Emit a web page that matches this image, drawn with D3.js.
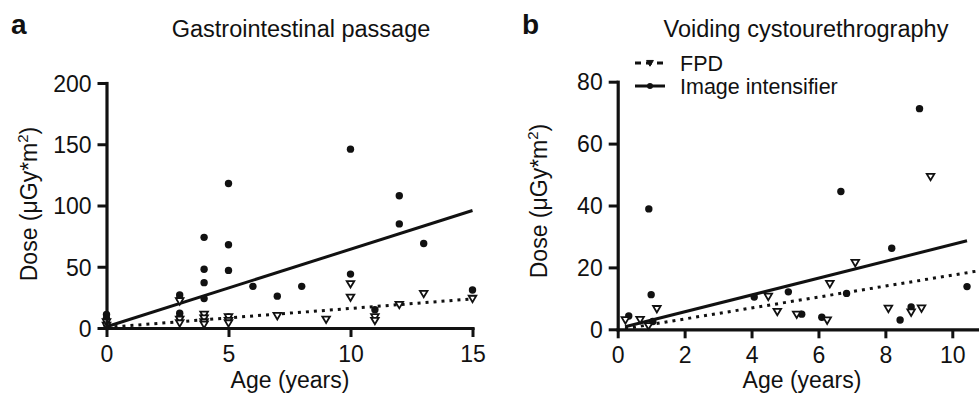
<!DOCTYPE html>
<html lang="en">
<head>
<meta charset="utf-8">
<title>Dose vs age</title>
<script src="https://cdn.jsdelivr.net/npm/d3@7"></script>
<style>
  body { margin: 0; background: #fff; }
  text { font-family: "Liberation Sans", Arial, sans-serif; fill: #111; }
</style>
</head>
<body>
<script>
// Panel a: gastrointestinal passage
var giIntensAge  = [0, 0, 0, 0, 3, 3, 3, 3, 4, 4, 4, 4, 4, 5, 5, 5, 5, 6, 7, 8, 10, 10, 11, 12, 12, 13, 15];
var giIntensDose = [11, 8, 5, 3, 27, 24, 12, 9, 74, 48, 37, 24, 10, 118, 68, 47, 9, 34, 26, 34, 146, 44, 15, 108, 85, 69, 31];
var giFpdAge  = [0, 0, 3, 3, 3, 4, 4, 4, 4, 5, 5, 5, 7, 9, 10, 10, 11, 11, 12, 13, 15];
var giFpdDose = [2, 5, 22, 7, 4, 11, 8, 5, 3, 9, 6, 4, 10, 7, 36, 25, 9, 6, 19, 28, 24];
// fit lines: [intercept, slope, xStart, xEnd]
var giIntensFit = [1, 6.33, 0, 15];
var giFpdFit    = [0.5, 1.55, 0, 15];

// Panel b: voiding cystourethrography
var vcuIntensAge  = [0.33, 0.93, 1.0, 1.05, 4.08, 5.1, 5.5, 6.1, 6.67, 6.84, 8.19, 8.44, 8.77, 9.02, 10.44];
var vcuIntensDose = [4.3, 38.9, 11.2, 2.5, 10.4, 12.1, 4.9, 3.9, 44.5, 11.6, 26.2, 3.0, 7.2, 71.3, 13.8];
var vcuFpdAge  = [0.23, 0.67, 0.92, 1.17, 4.5, 4.77, 5.35, 6.26, 6.34, 7.1, 8.09, 8.77, 9.08, 9.35];
var vcuFpdDose = [3.0, 3.1, 1.1, 6.6, 10.6, 5.7, 4.8, 2.9, 14.7, 21.5, 6.7, 5.5, 6.8, 49.3];
var vcuIntensFit = [0.2, 2.72, 0.22, 10.44];
var vcuFpdFit    = [-0.2, 1.77, 0.22, 11];

var W = 979, H = 393;
var svg = d3.select("body").append("svg").attr("width", W).attr("height", H);

function tri(x, y, s) {
  // downward pointing triangle
  return "M" + (x - s) + "," + (y - s * 0.75) + "L" + (x + s) + "," + (y - s * 0.75) + "L" + x + "," + (y + s * 0.95) + "Z";
}

function panel(o) {
  var x = d3.scaleLinear().domain(o.xDomain).range(o.xRange);
  var y = d3.scaleLinear().domain(o.yDomain).range(o.yRange);
  var g = svg.append("g");

  // fit lines
  var fits = [[o.fpdFit, "3,5"], [o.intFit, null]];
  fits.forEach(function(f) {
    var p = f[0];
    g.append("line")
      .attr("x1", x(p[2])).attr("y1", y(p[0] + p[1] * p[2]))
      .attr("x2", x(p[3])).attr("y2", y(p[0] + p[1] * p[3]))
      .attr("stroke", "#111").attr("stroke-width", 3)
      .attr("stroke-dasharray", f[1]);
  });

  // circles (image intensifier)
  g.selectAll("circle.int").data(o.intAge).enter().append("circle")
    .attr("class", "int")
    .attr("cx", function(d) { return x(d); })
    .attr("cy", function(d, i) { return y(o.intDose[i]); })
    .attr("r", 3.7).attr("fill", "#111");

  // triangles (FPD)
  g.selectAll("path.fpd").data(o.fpdAge).enter().append("path")
    .attr("class", "fpd")
    .attr("d", function(d, i) { return tri(x(d), y(o.fpdDose[i]), 3.8); })
    .attr("fill", "#fff").attr("stroke", "#111").attr("stroke-width", 1.8);

  // axes
  var xa = g.append("g").attr("transform", "translate(0," + o.yRange[0] + ")")
    .call(d3.axisBottom(x).tickValues(o.xTicks).tickSize(9).tickSizeOuter(0).tickPadding(8));
  var ya = g.append("g").attr("transform", "translate(" + o.xRange[0] + ",0)")
    .call(d3.axisLeft(y).tickValues(o.yTicks).tickSize(9).tickSizeOuter(0).tickPadding(6));
  [xa, ya].forEach(function(a) {
    a.select(".domain").attr("stroke", "#111").attr("stroke-width", 3.2).attr("stroke-linecap", "square");
    a.selectAll(".tick line").attr("stroke", "#111").attr("stroke-width", 3);
    a.selectAll(".tick text").attr("font-size", 23).attr("fill", "#111")
      .style("font-family", "'Liberation Sans', Arial, sans-serif");
  });
  ya.selectAll(".tick text").attr("dy", "0.36em");
  xa.selectAll(".tick text").attr("dy", "0.72em");

  // labels
  svg.append("text").attr("x", o.letterX).attr("y", 34)
    .attr("font-size", 28).attr("font-weight", "bold").text(o.letter);
  svg.append("text").attr("x", o.titleX).attr("y", 37)
    .attr("text-anchor", "middle").attr("font-size", 23.5).text(o.title);
  svg.append("text").attr("x", o.xLabelX).attr("y", 388)
    .attr("text-anchor", "middle").attr("font-size", 23).text("Age (years)");
  var yl = svg.append("text")
    .attr("transform", "translate(" + o.yLabelX + "," + o.yLabelY + ") rotate(-90)")
    .attr("text-anchor", "middle").attr("font-size", 23);
  yl.append("tspan").text("Dose (μGy*m");
  yl.append("tspan").attr("font-size", 15).attr("dy", -9).text("2");
  yl.append("tspan").attr("dy", 9).text(")");
}

panel({
  xDomain: [0, 15], xRange: [106.5, 472.5],
  yDomain: [0, 200], yRange: [328, 83],
  xTicks: [0, 5, 10, 15], yTicks: [0, 50, 100, 150, 200],
  intAge: giIntensAge, intDose: giIntensDose, fpdAge: giFpdAge, fpdDose: giFpdDose,
  intFit: giIntensFit, fpdFit: giFpdFit,
  letter: "a", letterX: 11, title: "Gastrointestinal passage", titleX: 301,
  xLabelX: 290, yLabelX: 37, yLabelY: 204
});

panel({
  xDomain: [0, 11], xRange: [617.7, 617.7 + 11 * 33.46],
  yDomain: [0, 80], yRange: [329.3, 81.7],
  xTicks: [0, 2, 4, 6, 8, 10], yTicks: [0, 20, 40, 60, 80],
  intAge: vcuIntensAge, intDose: vcuIntensDose, fpdAge: vcuFpdAge, fpdDose: vcuFpdDose,
  intFit: vcuIntensFit, fpdFit: vcuFpdFit,
  letter: "b", letterX: 522, title: "Voiding cystourethrography", titleX: 806,
  xLabelX: 802, yLabelX: 547, yLabelY: 201
});

// legend in panel b
var legendNames = ["FPD", "Image intensifier"];
var leg = svg.append("g");
legendNames.forEach(function(name, i) {
  var ly = 63 + i * 23;
  leg.append("line").attr("x1", 635).attr("x2", 665).attr("y1", ly).attr("y2", ly)
    .attr("stroke", "#111").attr("stroke-width", 3)
    .attr("stroke-dasharray", i === 0 ? "6,5" : null);
  if (i === 0) {
    leg.append("path").attr("d", tri(650, ly, 3.4)).attr("fill", "#111").attr("stroke", "#111").attr("stroke-width", 1);
  } else {
    leg.append("circle").attr("cx", 650).attr("cy", ly).attr("r", 3).attr("fill", "#111");
  }
  leg.append("text").attr("x", 680).attr("y", ly + 7.5).attr("font-size", 21.5).text(name);
});
</script>
</body>
</html>
